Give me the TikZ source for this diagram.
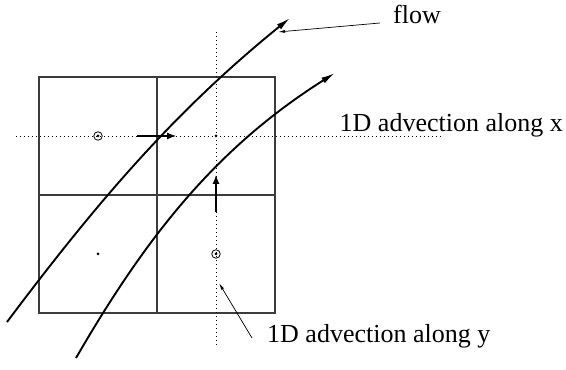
\documentclass[tikz,border=0pt]{standalone}
\usepackage{fontspec}
\setmainfont{Liberation Serif}
\usetikzlibrary{arrows.meta,positioning}
\definecolor{gridgray}{RGB}{60,60,60}

\begin{document}
\begin{tikzpicture}[x=1pt,y=1pt,
  lbl/.style={anchor=base west,inner sep=0pt,font=\fontsize{26}{30}\selectfont},
  cell/.style={draw=gridgray,line width=1.1pt},
  guide/.style={line width=0.8pt,dash pattern=on 0.8pt off 3.2pt},
  flowline/.style={line width=1.9pt,-{Latex[length=14pt,width=6.5pt]}},
  stepper/.style={line width=1.1pt,-{Latex[length=9pt,width=7pt]}},
  leader/.style={line width=0.7pt,-{Latex[length=7pt,width=3pt]}},
  ring/.style={circle,draw,line width=0.8pt,inner sep=0pt,minimum size=8.5pt},
  ctr/.style={circle,fill,inner sep=0pt,minimum size=3pt}]
\useasboundingbox (0,0) rectangle (566,370);

% 2x2 cells
\draw[cell] (39,57) rectangle (275,293);
\draw[cell] (157,57) -- (157,293);
\draw[cell] (39,175) -- (275,175);

% sweep lines through the cell centres
\draw[guide] (16,234) -- (443,234);
\draw[guide] (216,338) -- (216,25);

% cell centres
\node[ring] (ul) at (98,234) {};
\node[ctr] (ulc) at (ul) {};
\node[ctr] (ur) at (216,234) {};
\node[ctr] (ll) at (98,116) {};
\node[ring] (lr) at (216,116) {};
\node[ctr] (lrc) at (lr) {};

% the two 1D steps
\coordinate (xfrom) at (137,234);
\coordinate (xto) at (176,234);
\draw[stepper] (xfrom) -- (xto);
\coordinate (yfrom) at (216,158);
\coordinate (yto) at (216,195);
\draw[stepper] (yfrom) -- (yto);

% flow lines
\draw[flowline] (7,48) .. controls (97,168) and (175,259) .. (290,352);
\draw[flowline] (76,12) .. controls (146,133) and (216,222) .. (335,297);

% labels
\node[lbl] (flowlbl) at (393,346) {flow};
\node[lbl] (xlbl) at (339.5,238.3) {1D advection along x};
\node[lbl] (ylbl) at (267,27) {1D advection along y};
\coordinate (flowtip) at (278,338);
\coordinate (ytip) at (219,87);
\draw[leader] ([shift={(-13,1)}]flowlbl.base west) -- (flowtip);
\draw[leader] ([shift={(-15,5)}]ylbl.base west) -- (ytip);
\end{tikzpicture}
\end{document}
